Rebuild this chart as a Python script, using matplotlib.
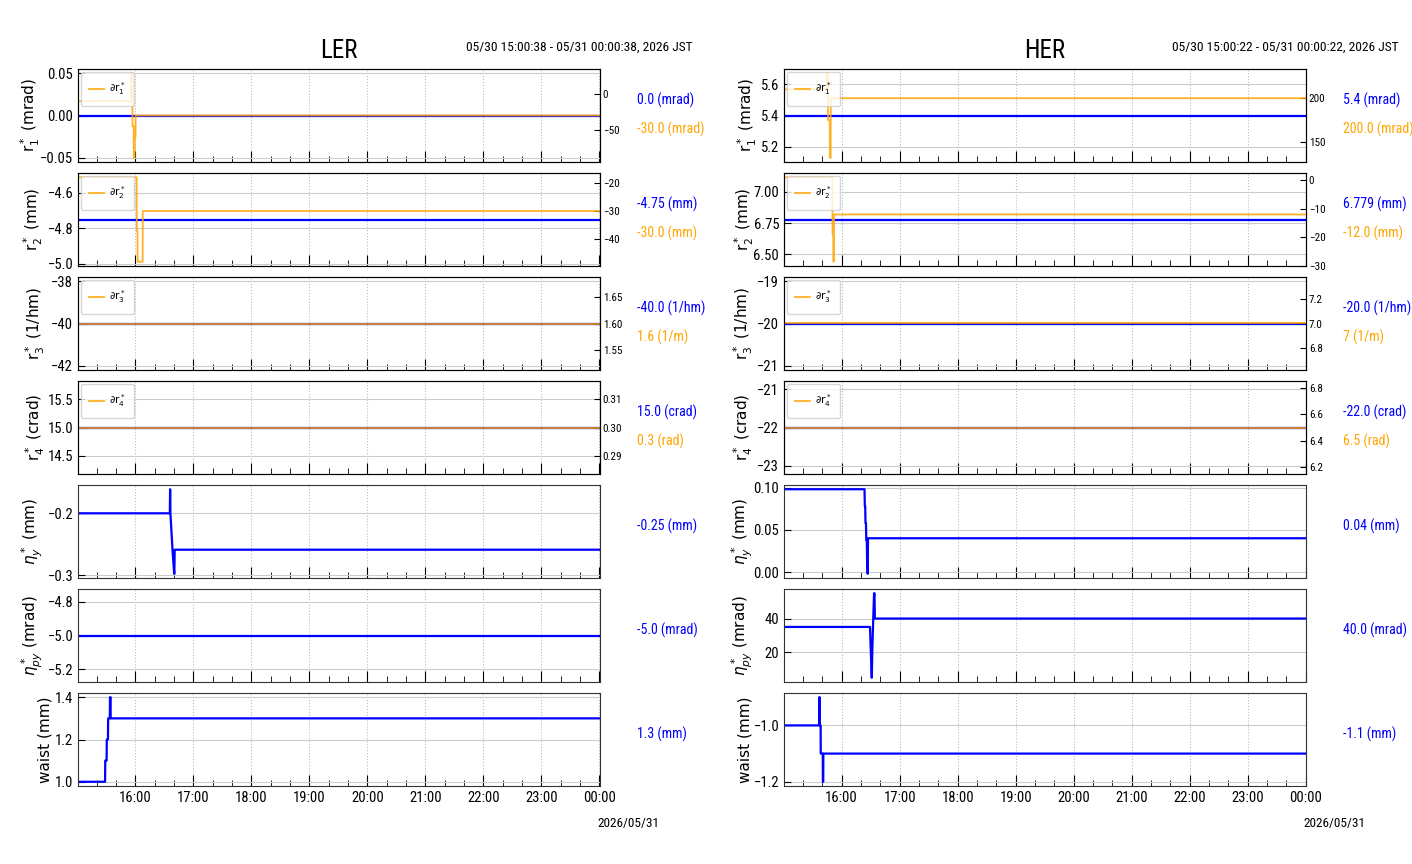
import numpy as np
import matplotlib
matplotlib.use('Agg')
import matplotlib.pyplot as plt
import matplotlib.dates as mdates
from matplotlib import font_manager as fm

# window start of each ring; all times below are minutes after it
ler_start = np.datetime64('2026-05-30T15:00:38')
her_start = np.datetime64('2026-05-30T15:00:22')
span_min = 540

# ---- LER ----
flat_t = [0, 540]
ler_r1 = [0.0, 0.0]
ler_r2 = [-4.75, -4.75]
ler_r3 = [-40.0, -40.0]
ler_r4 = [15.0, 15.0]
ler_npy = [-5.0, -5.0]

ler_dr1_t = [0, 54.8, 54.9, 56.3, 56.4, 57.6, 57.7, 58.6, 58.7, 59.5, 59.6, 540]
ler_dr1 = [-10, -10, 29, 29, -45, -45, -89, -89, -60, -60, -30, -30]
ler_dr2_t = [0, 60.7, 60.8, 61.6, 61.7, 66.9, 67.0, 540]
ler_dr2 = [-18, -18, -37, -37, -48, -48, -30, -30]
ler_dr3 = [1.6, 1.6]
ler_dr4 = [0.3, 0.3]

ler_ny_t = [0, 95.0, 95.3, 95.6, 97.8, 99.5, 99.7, 100.0, 540]
ler_ny = [-0.2, -0.2, -0.161, -0.2, -0.26, -0.298, -0.298, -0.259, -0.259]
ler_waist_t = [0, 28.0, 28.2, 29.6, 29.8, 31.0, 31.2, 32.9, 33.1, 33.7, 33.8, 540]
ler_waist = [1.0, 1.0, 1.1, 1.1, 1.2, 1.2, 1.3, 1.3, 1.4, 1.4, 1.3, 1.3]

# ---- HER ----
her_r1 = [5.4, 5.4]
her_r2 = [6.779, 6.779]
her_r3 = [-20.0, -20.0]
her_r4 = [-22.0, -22.0]

her_dr1_t = [0, 44.0, 44.1, 45.4, 45.5, 47.3, 47.4, 48.3, 48.4, 540]
her_dr1 = [210, 210, 228.5, 228.5, 175, 175, 132, 132, 200, 200]
her_dr2_t = [0, 50.1, 50.2, 50.9, 51.0, 51.6, 51.7, 540]
her_dr2 = [1, 1, -19, -19, -28.5, -28.5, -12, -12]
her_dr3 = [7.0, 7.0]
her_dr4 = [6.5, 6.5]

her_ny_t = [0, 83.3, 83.6, 84.0, 84.3, 84.8, 85.1, 85.6, 85.9, 86.6, 86.9, 540]
her_ny = [0.098, 0.098, 0.078, 0.078, 0.058, 0.058, 0.038, 0.038, 0.018, -0.002, 0.04, 0.04]
her_npy_t = [0, 89.0, 89.6, 90.8, 91.4, 92.6, 93.2, 93.6, 94.0, 540]
her_npy = [35, 35, 24, 4.7, 22, 45, 55.1, 55.1, 40, 40]
her_waist_t = [0, 36.3, 36.4, 36.9, 37.0, 37.9, 38.0, 40.1, 40.2, 40.6, 40.7, 540]
her_waist = [-1.0, -1.0, -0.9, -0.9, -1.0, -1.0, -1.1, -1.1, -1.2, -1.2, -1.1, -1.1]

ylabels = ['r$_1^*$ (mrad)', 'r$_2^*$ (mm)', 'r$_3^*$ (1/hm)', 'r$_4^*$ (crad)',
           r'$\eta_y^*$ (mm)', r'$\eta_{py}^*$ (mrad)', 'waist (mm)']
legend_labels = [r'$\partial\mathrm{r}_1^*$', r'$\partial\mathrm{r}_2^*$',
                 r'$\partial\mathrm{r}_3^*$', r'$\partial\mathrm{r}_4^*$']

ler_blue_text = ['0.0 (mrad)', '-4.75 (mm)', '-40.0 (1/hm)', '15.0 (crad)',
                 '-0.25 (mm)', '-5.0 (mrad)', '1.3 (mm)']
ler_orange_text = ['-30.0 (mrad)', '-30.0 (mm)', '1.6 (1/m)', '0.3 (rad)']
her_blue_text = ['5.4 (mrad)', '6.779 (mm)', '-20.0 (1/hm)', '-22.0 (crad)',
                 '0.04 (mm)', '40.0 (mrad)', '-1.1 (mm)']
her_orange_text = ['200.0 (mrad)', '-12.0 (mm)', '7 (1/m)', '6.5 (rad)']

ler_yticks = [[-0.05, 0, 0.05], [-5.0, -4.8, -4.6], [-42, -40, -38], [14.5, 15, 15.5],
              [-0.3, -0.2], [-5.2, -5.0, -4.8], [1.0, 1.2, 1.4]]
ler_rticks = [[0, -50], [-20, -30, -40], [1.55, 1.60, 1.65], [0.29, 0.30, 0.31]]
her_yticks = [[5.2, 5.4, 5.6], [6.5, 6.75, 7.0], [-21, -20, -19], [-23, -22, -21],
              [0, 0.05, 0.10], [20, 40], [-1.2, -1.0]]
her_rticks = [[150, 200], [0, -10, -20, -30], [6.8, 7.0, 7.2], [6.2, 6.4, 6.6, 6.8]]

# where the y labels sit (axes fraction, label centre)
ler_label_x = [-0.092, -0.085, -0.081, -0.081, -0.087, -0.087, -0.064]
her_label_x = [-0.071, -0.076, -0.077, -0.077, -0.079, -0.079, -0.075]


def pick_narrow():
    # a condensed face if one is installed, else plain DejaVu
    want = ['Liberation Sans Narrow', 'DejaVu Sans Condensed', 'Roboto Condensed',
            'Open Sans Condensed', 'Noto Sans Condensed', 'Noto Sans SemiCondensed',
            'Open Sans SemiCondensed', 'Roboto SemiCondensed']
    regular = [f for f in fm.fontManager.ttflist
               if f.style == 'normal' and str(f.weight) in ('400', 'normal', 'regular')]
    for w in want:
        for f in regular:
            if f.name == w:
                return f.name
    for f in regular:
        if f.stretch in ('condensed', 'semi-condensed', 'extra-condensed'):
            return f.name
    return 'DejaVu Sans'


NARROW = pick_narrow()


def to_time(start, minutes):
    return start + (np.asarray(minutes, dtype=float) * 60000).astype('timedelta64[ms]')


def draw_ring(fig, left_px, name, start, range_text, blue, orange, blue_text,
              orange_text, yticks, rticks, label_x):
    t_end = start + np.timedelta64(span_min * 60, 's')
    for i in range(7):
        bottom = 1 - (69 + 104 * i + 93) / 864
        ax = fig.add_axes([left_px / 1412, bottom, 522 / 1412, 93 / 864])
        bt, bv = blue[i]
        ax.plot(to_time(start, bt), bv, color='blue', lw=1.6)
        ax.set_xlim(start, t_end)
        ax.set_yticks(yticks[i])
        ax.set_ylabel(ylabels[i], fontsize=11, va='center')
        ax.yaxis.set_label_coords(label_x[i], 0.5)

        ax.xaxis.set_major_locator(mdates.HourLocator())
        ax.xaxis.set_minor_locator(mdates.MinuteLocator(byminute=[20, 40]))
        ax.xaxis.set_major_formatter(mdates.DateFormatter('%H:%M'))
        ax.tick_params(axis='x', which='major', direction='in', length=8,
                       labelsize=10.5, labelfontfamily=NARROW)
        ax.tick_params(axis='x', which='minor', direction='in', length=4)
        ax.tick_params(axis='y', direction='in', length=5, labelsize=10.5,
                       labelfontfamily=NARROW)
        if i < 6:
            ax.tick_params(axis='x', labelbottom=False)
        ax.grid(axis='y', color='#cccccc', lw=0.8)
        ax.grid(axis='x', color='#bbbbbb', lw=0.8, ls=':')
        for s in ax.spines.values():
            s.set_color('#333333')

        if i < 4:
            ax.text(1.071, 0.66, blue_text[i], color='blue', fontsize=10,
                    family=NARROW, transform=ax.transAxes, va='center')
            ax.text(1.071, 0.355, orange_text[i], color='orange', fontsize=10,
                    family=NARROW, transform=ax.transAxes, va='center')
            tw = ax.twinx()
            ot, ov = orange[i]
            tw.plot(to_time(start, ot), ov, color='orange', lw=1.3, alpha=0.85,
                    label=legend_labels[i])
            tw.set_xlim(start, t_end)
            tw.set_yticks(rticks[i])
            tw.tick_params(axis='y', direction='in', length=4, pad=2, labelsize=8,
                           labelfontfamily=NARROW)
            tw.legend(loc='upper left', fontsize=7.5, handlelength=1.4,
                      handletextpad=0.5, borderpad=0.8, framealpha=0.8,
                      borderaxespad=0.3)
        else:
            ax.text(1.071, 0.56, blue_text[i], color='blue', fontsize=10,
                    family=NARROW, transform=ax.transAxes, va='center')

        if i == 0:
            ax.text(0.5, 1.19, name, fontsize=18, family=NARROW,
                    transform=ax.transAxes, ha='center', va='center')
            ax.text(1.178, 1.237, range_text, fontsize=9.7, family=NARROW,
                    transform=ax.transAxes, ha='right', va='center')
        if i == 6:
            ax.text(1.113, -0.40, '2026/05/31', fontsize=9.5, family=NARROW,
                    transform=ax.transAxes, ha='right', va='center')


fig = plt.figure(figsize=(14.12, 8.64), dpi=100)

draw_ring(fig, 78, 'LER', ler_start, '05/30 15:00:38 - 05/31 00:00:38, 2026 JST',
          [(flat_t, ler_r1), (flat_t, ler_r2), (flat_t, ler_r3), (flat_t, ler_r4),
           (ler_ny_t, ler_ny), (flat_t, ler_npy), (ler_waist_t, ler_waist)],
          [(ler_dr1_t, ler_dr1), (ler_dr2_t, ler_dr2), (flat_t, ler_dr3), (flat_t, ler_dr4)],
          ler_blue_text, ler_orange_text, ler_yticks, ler_rticks, ler_label_x)

draw_ring(fig, 784, 'HER', her_start, '05/30 15:00:22 - 05/31 00:00:22, 2026 JST',
          [(flat_t, her_r1), (flat_t, her_r2), (flat_t, her_r3), (flat_t, her_r4),
           (her_ny_t, her_ny), (her_npy_t, her_npy), (her_waist_t, her_waist)],
          [(her_dr1_t, her_dr1), (her_dr2_t, her_dr2), (flat_t, her_dr3), (flat_t, her_dr4)],
          her_blue_text, her_orange_text, her_yticks, her_rticks, her_label_x)

fig.savefig('out.png', dpi=100)
